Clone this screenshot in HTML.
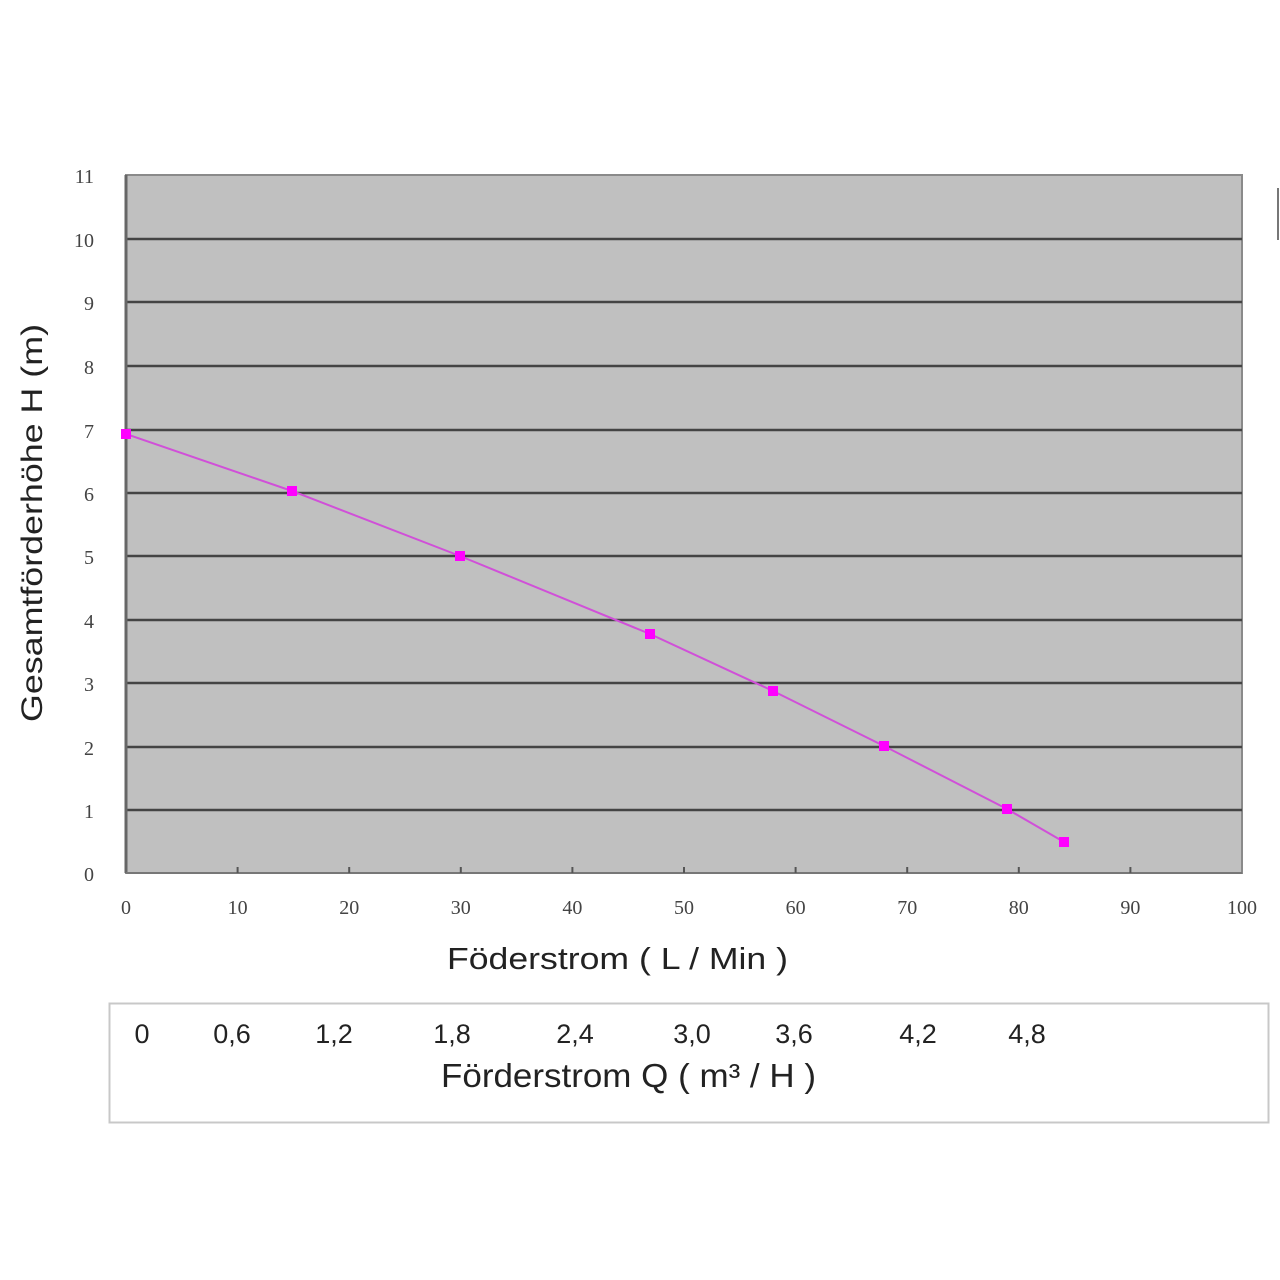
<!DOCTYPE html>
<html><head><meta charset="utf-8"><style>
html,body{margin:0;padding:0;background:#fff;}
svg{display:block;}
</style></head><body>
<svg width="1280" height="1280" viewBox="0 0 1280 1280" xmlns="http://www.w3.org/2000/svg" font-family="Liberation Sans, sans-serif">
<rect x="0" y="0" width="1280" height="1280" fill="#fff"/>
<rect x="126" y="175" width="1116" height="698" fill="#c0c0c0" stroke="#8a8a8a" stroke-width="2"/>
<g stroke="#444" stroke-width="2.5">
<line x1="126" y1="239" x2="1242" y2="239"/>
<line x1="126" y1="302" x2="1242" y2="302"/>
<line x1="126" y1="366" x2="1242" y2="366"/>
<line x1="126" y1="430" x2="1242" y2="430"/>
<line x1="126" y1="493" x2="1242" y2="493"/>
<line x1="126" y1="556" x2="1242" y2="556"/>
<line x1="126" y1="620" x2="1242" y2="620"/>
<line x1="126" y1="683" x2="1242" y2="683"/>
<line x1="126" y1="747" x2="1242" y2="747"/>
<line x1="126" y1="810" x2="1242" y2="810"/>
</g>
<line x1="126" y1="175" x2="126" y2="873" stroke="#666" stroke-width="3"/>
<line x1="126" y1="873" x2="1242" y2="873" stroke="#777" stroke-width="2"/>
<g stroke="#555" stroke-width="2">
<line x1="237.6" y1="867" x2="237.6" y2="873"/><line x1="349.2" y1="867" x2="349.2" y2="873"/>
<line x1="460.8" y1="867" x2="460.8" y2="873"/><line x1="572.4" y1="867" x2="572.4" y2="873"/>
<line x1="684" y1="867" x2="684" y2="873"/><line x1="795.6" y1="867" x2="795.6" y2="873"/>
<line x1="907.2" y1="867" x2="907.2" y2="873"/><line x1="1018.8" y1="867" x2="1018.8" y2="873"/>
<line x1="1130.4" y1="867" x2="1130.4" y2="873"/>
</g>
<line x1="1278" y1="188" x2="1278" y2="240" stroke="#777" stroke-width="2"/>
<g font-family="Liberation Serif, serif" font-size="20" fill="#444" text-anchor="end">
<text x="94" y="183">11</text><text x="94" y="247">10</text><text x="94" y="310">9</text>
<text x="94" y="374">8</text><text x="94" y="438">7</text><text x="94" y="501">6</text>
<text x="94" y="564">5</text><text x="94" y="628">4</text><text x="94" y="691">3</text>
<text x="94" y="755">2</text><text x="94" y="818">1</text><text x="94" y="881">0</text>
</g>
<g font-family="Liberation Serif, serif" font-size="20" fill="#444" text-anchor="middle">
<text x="126" y="914">0</text><text x="237.6" y="914">10</text><text x="349.2" y="914">20</text>
<text x="460.8" y="914">30</text><text x="572.4" y="914">40</text><text x="684" y="914">50</text>
<text x="795.6" y="914">60</text><text x="907.2" y="914">70</text><text x="1018.8" y="914">80</text>
<text x="1130.4" y="914">90</text><text x="1242" y="914">100</text>
</g>
<text transform="translate(42,722) rotate(-90)" font-size="30" fill="#222" textLength="398" lengthAdjust="spacingAndGlyphs">Gesamtförderhöhe  H (m)</text>
<text x="447" y="969" font-size="31" fill="#222" textLength="341" lengthAdjust="spacingAndGlyphs">Föderstrom ( L / Min )</text>
<polyline fill="none" stroke="#d050d8" stroke-width="2" points="126,434 292,491 460,556 650,634 773,691 884,746 1007,809 1064,842"/>
<g fill="#ff00ff">
<rect x="121" y="429" width="10" height="10"/><rect x="287" y="486" width="10" height="10"/>
<rect x="455" y="551" width="10" height="10"/><rect x="645" y="629" width="10" height="10"/>
<rect x="768" y="686" width="10" height="10"/><rect x="879" y="741" width="10" height="10"/>
<rect x="1002" y="804" width="10" height="10"/><rect x="1059" y="837" width="10" height="10"/>
</g>
<rect x="109.5" y="1003.5" width="1159" height="119" fill="#fff" stroke="#c8c8c8" stroke-width="2"/>
<g font-size="27" fill="#222" text-anchor="middle">
<text x="142" y="1043">0</text><text x="232" y="1043">0,6</text><text x="334" y="1043">1,2</text>
<text x="452" y="1043">1,8</text><text x="575" y="1043">2,4</text><text x="692" y="1043">3,0</text>
<text x="794" y="1043">3,6</text><text x="918" y="1043">4,2</text><text x="1027" y="1043">4,8</text>
</g>
<text x="441" y="1087" font-size="33" fill="#222" textLength="375" lengthAdjust="spacingAndGlyphs">Förderstrom Q ( m³ / H )</text>
</svg>
</body></html>
